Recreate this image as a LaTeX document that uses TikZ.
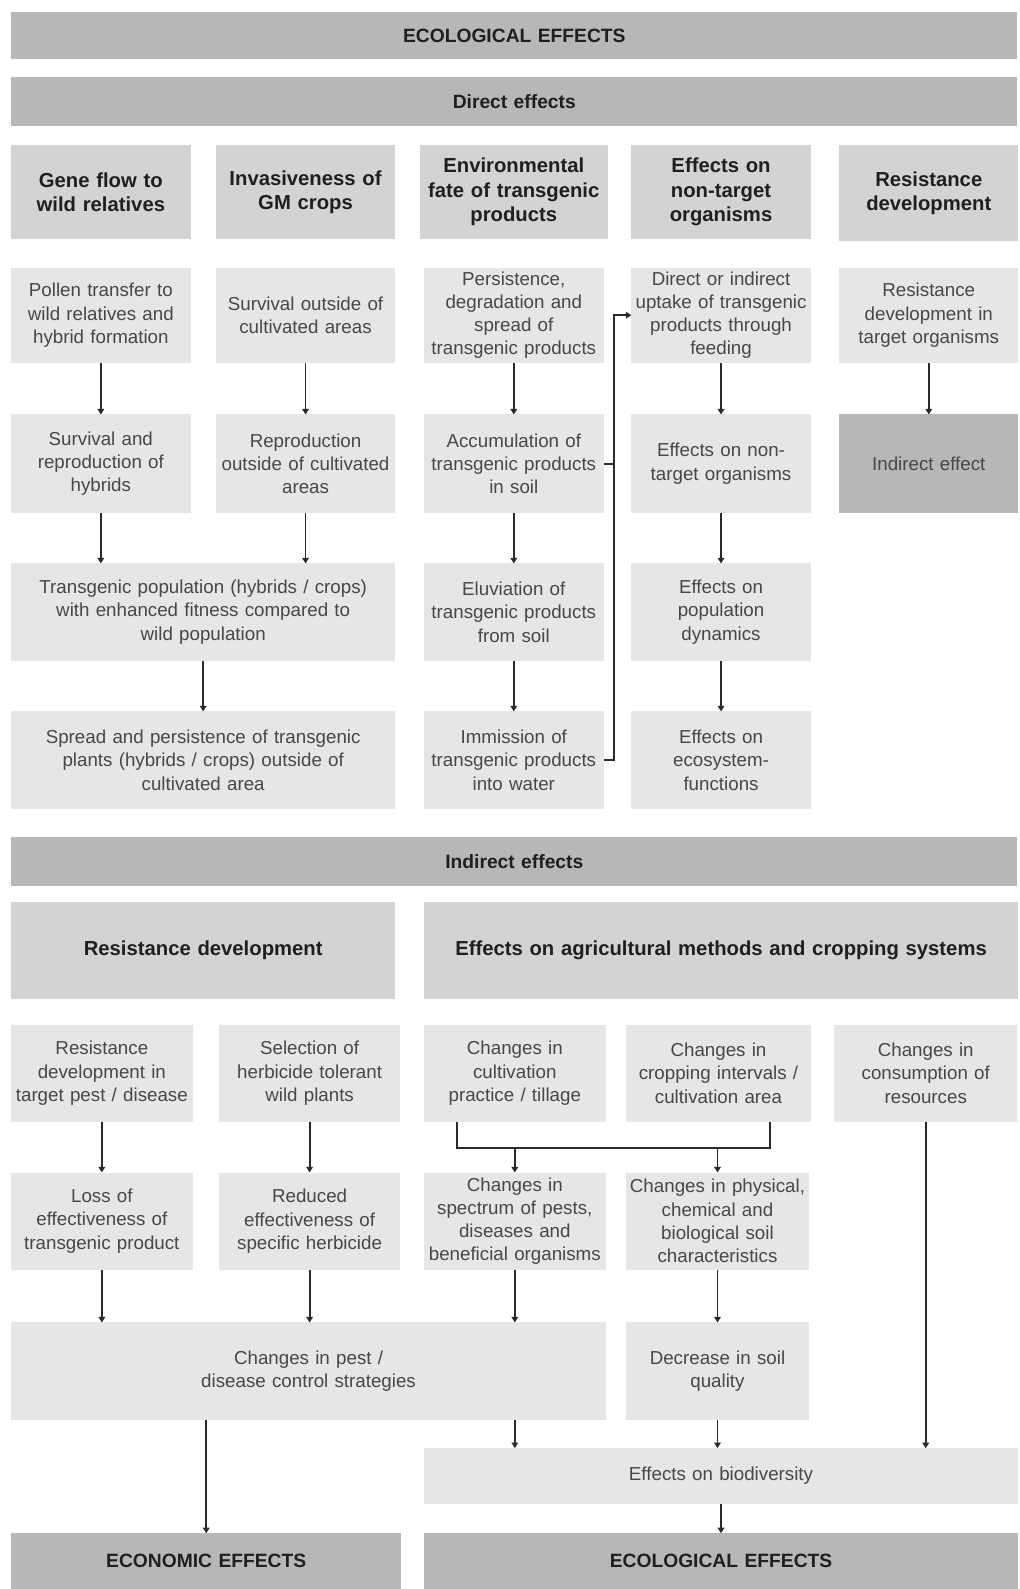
\documentclass[tikz,border=0pt]{standalone}
\usepackage{fontspec}
\setmainfont{Liberation Sans}
\usetikzlibrary{arrows.meta}
\definecolor{bannergray}{HTML}{B7B7B9}
\definecolor{headgray}{HTML}{D2D3D5}
\definecolor{bodygray}{HTML}{E6E6E7}
\definecolor{linegray}{HTML}{2A2A2A}
\newcommand\gbox[7]{%
  \pgfmathsetmacro\gbw{(#5)-(#3)}%
  \pgfmathsetmacro\gbh{(#6)-(#4)}%
  \pgfmathsetmacro\gbtw{(#5)-(#3)-2}%
  \node[#1, minimum width=\gbw pt, minimum height=\gbh pt, text width=\gbtw pt] (#2) at ({((#3)+(#5))/2},{((#4)+(#6))/2}) {#7};}
\begin{document}
\begin{tikzpicture}[x=1pt,y=-1pt,
  base/.style={rectangle, inner sep=0pt, outer sep=0pt, align=center, anchor=center},
  banner/.style={base, fill=bannergray, font=\fontsize{19}{23}\selectfont\bfseries, text=black!88},
  headbox/.style={base, fill=headgray, font=\fontsize{20}{24}\selectfont\bfseries, text=black!88},
  bodybox/.style={base, fill=bodygray, font=\fontsize{18.5}{23}\selectfont, text=black!72},
  darkbox/.style={bodybox, fill=bannergray},
  arr/.style={draw=linegray, line width=1.8pt, -{Triangle[length=5.5pt,width=6.5pt]}},
  ln/.style={draw=linegray, line width=1.8pt}]
\useasboundingbox (0,0) rectangle (1006,1568);
% ---- Direct effects ----
\gbox{banner}{eco}{11}{12}{1004}{58}{ECOLOGICAL EFFECTS}
\gbox{banner}{direct}{11}{76}{1004}{124}{Direct effects}
\gbox{headbox}{h1}{11}{143}{188}{236}{Gene flow to\\wild relatives}
\gbox{headbox}{h2}{213}{143}{390}{236}{Invasiveness of\\GM crops}
\gbox{headbox}{h3}{414}{143}{600}{236}{Environmental\\fate of transgenic\\products}
\gbox{headbox}{h4}{623}{143}{800}{236}{Effects on\\non-target\\organisms}
\gbox{headbox}{h5}{828}{143}{1005}{238}{Resistance\\development}
% row 1
\gbox{bodybox}{a1}{11}{264}{188}{358}{Pollen transfer to\\wild relatives and\\hybrid formation}
\gbox{bodybox}{b1}{213}{264}{390}{358}{Survival outside of\\cultivated areas}
\gbox{bodybox}{c1}{418}{264}{596}{358}{Persistence,\\degradation and\\spread of\\transgenic products}
\gbox{bodybox}{d1}{623}{264}{800}{358}{Direct or indirect\\uptake of transgenic\\products through\\feeding}
\gbox{bodybox}{e1}{828}{264}{1005}{358}{Resistance\\development in\\target organisms}
% row 2
\gbox{bodybox}{a2}{11}{409}{188}{506}{Survival and\\reproduction of\\hybrids}
\gbox{bodybox}{b2}{213}{409}{390}{506}{Reproduction\\outside of cultivated\\areas}
\gbox{bodybox}{c2}{418}{409}{596}{506}{Accumulation of\\transgenic products\\in soil}
\gbox{bodybox}{d2}{623}{409}{800}{506}{Effects on non-\\target organisms}
\gbox{darkbox}{e2}{828}{409}{1005}{506}{Indirect effect}
% row 3
\gbox{bodybox}{ab3}{11}{556}{390}{652}{Transgenic population (hybrids / crops)\\with enhanced fitness compared to\\wild population}
\gbox{bodybox}{c3}{418}{556}{596}{652}{Eluviation of\\transgenic products\\from soil}
\gbox{bodybox}{d3}{623}{556}{800}{652}{Effects on\\population\\dynamics}
% row 4
\gbox{bodybox}{ab4}{11}{702}{390}{798}{Spread and persistence of transgenic\\plants (hybrids / crops) outside of\\cultivated area}
\gbox{bodybox}{c4}{418}{702}{596}{798}{Immission of\\transgenic products\\into water}
\gbox{bodybox}{d4}{623}{702}{800}{798}{Effects on\\ecosystem-\\functions}
% arrows direct
\draw[arr] (a1.south) -- (a2.north);
\draw[arr] (b1.south) -- (b2.north);
\draw[arr] (c1.south) -- (c2.north);
\draw[arr] (d1.south) -- (d2.north);
\draw[arr] (e1.south) -- (e2.north);
\draw[arr] (a2.south) -- (a2.south |- ab3.north);
\draw[arr] (b2.south) -- (b2.south |- ab3.north);
\draw[arr] (ab3.south) -- (ab4.north);
\draw[arr] (c2.south) -- (c3.north);
\draw[arr] (c3.south) -- (c4.north);
\draw[arr] (d2.south) -- (d3.north);
\draw[arr] (d3.south) -- (d4.north);
\coordinate (lp) at (606,0);
\draw[ln] (c2.east) -- (c2.east -| lp);
\draw[arr] (c4.east) -| (lp |- d1.west) -- (d1.west);
% ---- Indirect effects ----
\gbox{banner}{indirect}{11}{826}{1004}{874}{Indirect effects}
\gbox{headbox}{rd}{11}{890}{390}{986}{Resistance development}
\gbox{headbox}{am}{418}{890}{1005}{986}{Effects on agricultural methods and cropping systems}
% row i1
\gbox{bodybox}{p1}{11}{1011}{190}{1107}{Resistance\\development in\\target pest / disease}
\gbox{bodybox}{q1}{216}{1011}{395}{1107}{Selection of\\herbicide tolerant\\wild plants}
\gbox{bodybox}{r1}{418}{1011}{598}{1107}{Changes in\\cultivation\\practice / tillage}
\gbox{bodybox}{s1}{618}{1011}{800}{1107}{Changes in\\cropping intervals /\\cultivation area}
\gbox{bodybox}{t1}{823}{1011}{1004}{1107}{Changes in\\consumption of\\resources}
% row i2
\gbox{bodybox}{p2}{11}{1157}{190}{1253}{Loss of\\effectiveness of\\transgenic product}
\gbox{bodybox}{q2}{216}{1157}{395}{1253}{Reduced\\effectiveness of\\specific herbicide}
\gbox{bodybox}{r2}{418}{1157}{598}{1253}{Changes in\\spectrum of pests,\\diseases and\\beneficial organisms}
\gbox{bodybox}{s2}{618}{1157}{798}{1253}{Changes in physical,\\chemical and\\biological soil\\characteristics}
% row i3
\gbox{bodybox}{pq3}{11}{1305}{598}{1401}{Changes in pest /\\disease control strategies}
\gbox{bodybox}{s3}{618}{1305}{798}{1401}{Decrease in soil\\quality}
\gbox{bodybox}{bio}{418}{1429}{1005}{1484}{Effects on biodiversity}
\gbox{banner}{econ}{11}{1513}{396}{1568}{ECONOMIC EFFECTS}
\gbox{banner}{ecol}{418}{1513}{1005}{1568}{ECOLOGICAL EFFECTS}
% arrows indirect
\draw[arr] (p1.south) -- (p2.north);
\draw[arr] (q1.south) -- (q2.north);
\coordinate (bl) at (451,1133);
\coordinate (br) at (760,1133);
\draw[ln] (r1.south -| bl) -- (bl) -- (br) -- (s1.south -| br);
\draw[arr] (bl -| r2.north) -- (r2.north);
\draw[arr] (br -| s2.north) -- (s2.north);
\draw[arr] (t1.south) -- (t1.south |- bio.north);
\draw[arr] (p2.south) -- (p2.south |- pq3.north);
\draw[arr] (q2.south) -- (q2.south |- pq3.north);
\draw[arr] (r2.south) -- (r2.south |- pq3.north);
\draw[arr] (s2.south) -- (s3.north);
\draw[arr] (pq3.south -| r2.south) -- (r2.south |- bio.north);
\draw[arr] (s3.south) -- (s3.south |- bio.north);
\draw[arr] (pq3.south -| econ.north) -- (econ.north);
\draw[arr] (bio.south) -- (ecol.north);
\end{tikzpicture}
\end{document}
